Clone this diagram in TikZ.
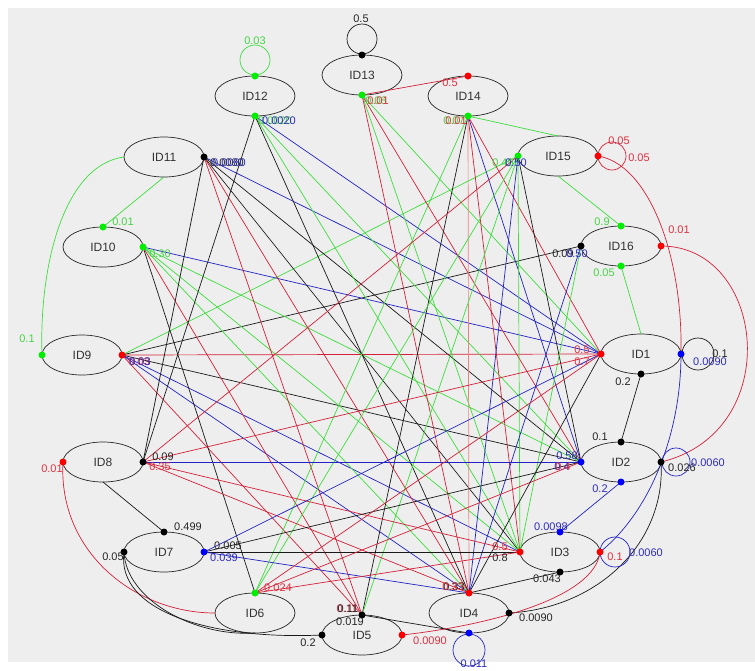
\documentclass[tikz,border=0pt]{standalone}
\usepackage{fontspec}
\setmainfont{Liberation Sans}
\usetikzlibrary{shapes.geometric}
\definecolor{bgc}{RGB}{238,238,238}
\definecolor{ered}{RGB}{212,32,56}
\definecolor{egreen}{RGB}{60,222,60}
\definecolor{eblue}{RGB}{34,34,196}
\definecolor{esalmon}{RGB}{240,128,128}
\definecolor{dred}{RGB}{250,0,0}
\definecolor{dgreen}{RGB}{0,238,0}
\definecolor{dblue}{RGB}{0,0,250}
\definecolor{lred}{RGB}{222,48,64}
\definecolor{lgreen}{RGB}{70,212,70}
\definecolor{lblue}{RGB}{44,44,190}
\begin{document}
\begin{tikzpicture}[x=1pt,y=-1pt,
  idnode/.style={ellipse,draw=black!85,line width=0.7pt,minimum width=80pt,minimum height=40pt,
    inner sep=0pt,outer sep=0pt,text=black!80,font=\fontsize{12}{12}\selectfont},
  ln/.style={line width=0.7pt},
  cr/.style={ln,draw=ered}, cg/.style={ln,draw=egreen}, cb/.style={ln,draw=eblue},
  ck/.style={ln,draw=black!90}, cs/.style={ln,draw=esalmon},
  lab/.style={inner sep=0pt,font=\fontsize{11}{11}\selectfont},
  lr/.style={lab,text=lred}, lg/.style={lab,text=lgreen}, lb/.style={lab,text=lblue}, lk/.style={lab,text=black!85},
  pr/.style={fill=dred}, pg/.style={fill=dgreen}, pb/.style={fill=dblue}, pk/.style={fill=black}]

% canvas
\useasboundingbox (0,0) rectangle (755,670);
\fill[white] (0,0) rectangle (755,670);
\fill[bgc] (8,8) rectangle (755,662);

% states
\node[idnode] (n1)  at (641,354) {ID1};
\node[idnode] (n2)  at (621,462) {ID2};
\node[idnode] (n3)  at (560,552) {ID3};
\node[idnode] (n4)  at (469,613) {ID4};
\node[idnode] (n5)  at (362,635) {ID5};
\node[idnode] (n6)  at (255,613) {ID6};
\node[idnode] (n7)  at (164,552) {ID7};
\node[idnode] (n8)  at (103,462) {ID8};
\node[idnode] (n9)  at (82,355)  {ID9};
\node[idnode] (n10) at (103,247) {ID10};
\node[idnode] (n11) at (164,157) {ID11};
\node[idnode] (n12) at (255,96)  {ID12};
\node[idnode] (n13) at (362,75)  {ID13};
\node[idnode] (n14) at (468,96)  {ID14};
\node[idnode] (n15) at (558,156) {ID15};
\node[idnode] (n16) at (621,246) {ID16};

% long transitions
\draw[cr] (n9.east) -- (n1.west);
\draw[cg] (n9.east) -- (n15.west);
\draw[ck] (n9.east) -- (n16.west);
\draw[ck] (n9.east) -- (n2.west);
\draw[cb] (n9.east) -- (n3.west);
\draw[cb] (n9.east) -- (n4.north);
\draw[cr] (n9.east) -- (n5.north);

\draw[cb] (n10.east) -- (n1.west);
\draw[cg] (n10.east) -- (n2.west);
\draw[cg] (n10.east) -- (n3.west);
\draw[cg] (n10.east) -- (n4.north);
\draw[cr] (n10.east) -- (n5.north);
\draw[ck] (n10.east) -- (n6.north);

\draw[cb] (n11.east) -- (n1.west);
\draw[ck] (n11.east) -- (n2.west);
\draw[ck] (n11.east) -- (n3.west);
\draw[cr] (n11.east) -- (n4.north);
\draw[cr] (n11.east) -- (n5.north);
\draw[ck] (n11.east) -- (n8.east);

\draw[cb] (n12.south) -- (n1.west);
\draw[cg] (n12.south) -- (n2.west);
\draw[cg] (n12.south) -- (n3.west);
\draw[ck] (n12.south) -- (n4.north);
\draw[ck] (n12.south) -- (n8.east);

\draw[cg] (n13.south) -- (n1.west);
\draw[cr] (n13.south) -- (n2.west);
\draw[cg] (n13.south) -- (n3.west);
\draw[cr] (n13.south) -- (n4.north);

\draw[cr] (n14.south) -- (n1.west);
\draw[cb] (n14.south) -- (n2.west);
\draw[cr] (n14.south) -- (n3.west);
\draw[cs] (n14.south) -- (n4.north);
\draw[ck] (n14.south) -- (n5.north);
\draw[cg] (n14.south) -- (n6.north);

\draw[ck] (n15.west) -- (n2.west);
\draw[cg] (n15.west) -- (n3.west);
\draw[cb] (n15.west) -- (n4.north);
\draw[cg] (n15.west) -- (n5.north);
\draw[cg] (n15.west) -- (n6.north);
\draw[cr] (n15.west) -- (n8.east);

\draw[cb] (n16.west) -- (n4.north);
\draw[cg] (n16.west) -- (n3.west);

\draw[cr] (n8.east) -- (n1.west);
\draw[cb] (n8.east) -- (n2.west);
\draw[cr] (n8.east) -- (n3.west);
\draw[cr] (n8.east) -- (n4.north);

\draw[cb] (n7.east) -- (n1.west);
\draw[ck] (n7.east) -- (n2.west);
\draw[ck] (n7.east) -- (n3.west);
\draw[cb] (n7.east) -- (n4.north);

\draw[cr] (n6.north) -- (n1.west);
\draw[cr] (n6.north) -- (n2.west);
\draw[cr] (n6.north) -- (n3.west);

\draw[ck] (n4.north) -- (n1.west);

% neighbour transitions
\draw[cr] (n13.south) -- (n14.north);
\draw[cg] (n14.south) -- (n15.north);
\draw[cg] (n15.south) -- (n16.north);
\draw[cg] (n16.south) -- (n1.north);
\draw[cg] (n11.south) -- (n10.north);
\draw[ck] (n1.south) -- (n2.north);
\draw[cb] (n2.south) -- (n3.north);
\draw[ck] (n3.south) -- (n4.north);
\draw[ck] (n5.north) -- (n4.south);
\draw[ck] (n8.south) -- (n7.north);

% curved transitions
\draw[cg] (n11.west) .. controls +(-60,8) and +(-3,-90) .. (n9.west);
\draw[cr] (n8.west) .. controls +(-5,90) and +(-80,0) .. (n6.west);
\draw[ck] (n7.west) .. controls +(-8,60) and +(-110,5) .. (n5.west);
\draw[ck] (n7.west) .. controls +(2,48) and +(-60,4) .. (n6.south);
\draw[cr] (n15.east) .. controls +(50,8) and +(2,-100) .. (n1.east);
\draw[cr] (n16.east) .. controls +(105,0) and +(125,-30) .. (n2.east);
\draw[cb] (n1.east) .. controls +(0,80) and +(50,-40) .. (n3.east);
\draw[ck] (n2.east) .. controls +(5,80) and +(90,-5) .. (n4.east);
\draw[cr] (n3.east) .. controls +(-5,45) and +(90,-10) .. (n5.east);

% self loops
\draw[ck] ([yshift=16pt]n13.north) circle[radius=15pt];
\draw[cg] ([yshift=16pt]n12.north) circle[radius=15pt];
\draw[cr] ([xshift=14pt]n15.east) circle[radius=14pt];
\draw[ck] ([xshift=17pt]n1.east) circle[radius=16pt];
\draw[cb] ([xshift=15pt]n2.east) circle[radius=14pt];
\draw[cb] ([xshift=15pt]n3.east) circle[radius=15pt];
\draw[cb] ([yshift=-17pt]n4.south) circle[radius=16pt];

% ports
\foreach \p in {n13.south,n12.north,n12.south,n14.south,n15.west,n16.north,n16.south,n10.north,n10.east,n9.west,n6.north}
  \fill[pg] (\p) circle[radius=3.5pt];
\foreach \p in {n14.north,n15.east,n16.east,n9.east,n8.west,n5.east,n4.north,n3.west,n3.east,n1.west}
  \fill[pr] (\p) circle[radius=3.5pt];
\foreach \p in {n7.east,n4.south,n3.north,n2.west,n2.south,n1.east}
  \fill[pb] (\p) circle[radius=3.5pt];
\foreach \p in {n13.north,n16.west,n11.east,n8.east,n7.north,n7.west,n5.north,n5.west,n4.east,n3.south,n2.north,n2.east,n1.south}
  \fill[pk] (\p) circle[radius=3.5pt];

% probabilities
\node[lk] (t1) at (361,19) {0.5};
\node[lg] (t2) at (255,41) {0.03};
\node[lr] (t3) at (450,83) {0.5};
\node[lg] (t4) at (376,101) {0.08};
\node[lr] (t5) at (378,101) {0.01};
\node[lg] (t6) at (275,121) {0.0020};
\node[lb] (t7) at (279,121) {0.0020};
\node[lg] (t8) at (454,121) {0.07};
\node[lr] (t9) at (456,121) {0.01};
\node[lg] (t10) at (503,163) {0.49};
\node[lb] (t11) at (516,163) {0.50};
\node[lr] (t12) at (619,141) {0.05};
\node[lr] (t13) at (639,158) {0.05};
\node[lg] (t14) at (602,222) {0.9};
\node[lg] (t15) at (604,273) {0.05};
\node[lr] (t16) at (679,230) {0.01};
\node[lk] (t17) at (563,254) {0.09};
\node[lb] (t18) at (577,254) {0.50};
\node[lk] (t19) at (227,163) {0.0080};
\node[lb] (t20) at (229,163) {0.0080};
\node[lg] (t21) at (123,222) {0.01};
\node[lg] (t22) at (160,254) {0.30};
\node[lg] (t23) at (27,339) {0.1};
\node[lr] (t24) at (139,362) {0.03};
\node[lb] (t25) at (140,362) {0.03};
\node[lk] (t26) at (163,457) {0.09};
\node[lr] (t27) at (160,467) {0.35};
\node[lr] (t28) at (52,469) {0.01};
\node[lk] (t29) at (188,527) {0.499};
\node[lk] (t30) at (113,557) {0.05};
\node[lk] (t31) at (228,546) {0.005};
\node[lb] (t32) at (224,558) {0.039};
\node[lr] (t33) at (278,588) {0.024};
\node[lr] (t34) at (347,609) {0.11};
\node[lk] (t35) at (348,609) {0.11};
\node[lk] (t36) at (350,622) {0.019};
\node[lk] (t37) at (308,643) {0.2};
\node[lr] (t38) at (430,641) {0.0090};
\node[lk] (t39) at (454,587) {0.33};
\node[lr] (t40) at (453,587) {0.33};
\node[lk] (t41) at (536,618) {0.0090};
\node[lb] (t42) at (474,664) {0.011};
\node[lr] (t43) at (500,547) {0.5};
\node[lk] (t44) at (500,558) {0.8};
\node[lb] (t45) at (551,527) {0.0098};
\node[lk] (t46) at (547,579) {0.043};
\node[lr] (t47) at (615,557) {0.1};
\node[lb] (t48) at (646,553) {0.0060};
\node[lk] (t49) at (600,437) {0.1};
\node[lb] (t50) at (600,489) {0.2};
\node[lb] (t51) at (567,456) {0.58};
\node[lb] (t52) at (562,467) {0.4};
\node[lr] (t53) at (563,467) {0.4};
\node[lk] (t54) at (682,468) {0.026};
\node[lb] (t55) at (708,463) {0.0060};
\node[lr] (t56) at (582,350) {0.5};
\node[lr] (t57) at (582,362) {0.7};
\node[lk] (t58) at (623,382) {0.2};
\node[lk] (t59) at (720,354) {0.1};
\node[lb] (t60) at (710,362) {0.0090};
\end{tikzpicture}
\end{document}
